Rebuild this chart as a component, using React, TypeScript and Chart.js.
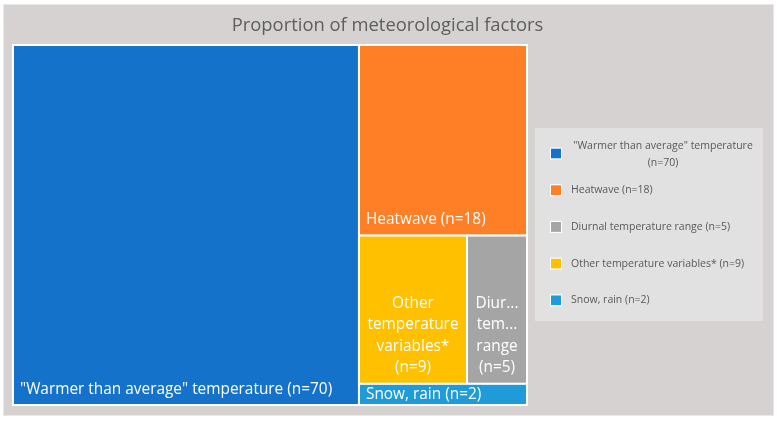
import React, { useEffect, useRef } from "react";
import { Chart, registerables } from "chart.js";

Chart.register(...registerables);

const chartTitle = "Proportion of meteorological factors";
const categories = [
  '"Warmer than average" temperature',
  "Heatwave",
  "Diurnal temperature range",
  "Other temperature variables*",
  "Snow, rain",
];
const counts = [70, 18, 5, 9, 2];
const colors = ["#1572CA", "#FF7F27", "#A5A5A5", "#FFC000", "#1E9BD8"];

const FONT = '"Open Sans", "Noto Sans", sans-serif';

type Item = { v: number; idx: number; a: number };
type Cell = { x: number; y: number; w: number; h: number; idx: number };

function worst(row: Item[], side: number) {
  const s = row.reduce((t, r) => t + r.a, 0);
  let m = 0;
  for (const r of row) {
    const q = Math.max((side * side * r.a) / (s * s), (s * s) / (side * side * r.a));
    if (q > m) m = q;
  }
  return m;
}

function squarify(values: number[], W: number, H: number): Cell[] {
  const total = values.reduce((a, b) => a + b, 0);
  const scale = (W * H) / total;
  const items: Item[] = values
    .map((v, idx) => ({ v, idx, a: v * scale }))
    .sort((p, q) => q.v - p.v);
  const out: Cell[] = [];
  let x = 0, y = 0, w = W, h = H;
  let i = 0;
  while (i < items.length) {
    const side = Math.min(w, h);
    let row = [items[i]];
    let best = worst(row, side);
    let j = i + 1;
    while (j < items.length) {
      const cand = [...row, items[j]];
      const r = worst(cand, side);
      if (r <= best * 1.5) {
        row = cand;
        best = r;
        j++;
      } else break;
    }
    const rowArea = row.reduce((t, r) => t + r.a, 0);
    if (w >= h) {
      const cw = rowArea / h;
      let cy = y;
      for (const it of row) {
        const ih = it.a / cw;
        out.push({ x, y: cy, w: cw, h: ih, idx: it.idx });
        cy += ih;
      }
      x += cw;
      w -= cw;
    } else {
      const rh = rowArea / w;
      let cx = x;
      for (const it of row) {
        const iw = it.a / rh;
        out.push({ x: cx, y, w: iw, h: rh, idx: it.idx });
        cx += iw;
      }
      y += rh;
      h -= rh;
    }
    i = j;
  }
  return out;
}

function fitWord(ctx: CanvasRenderingContext2D, word: string, maxW: number) {
  if (ctx.measureText(word).width <= maxW) return word;
  let s = word;
  while (s.length > 1 && ctx.measureText(s + "...").width > maxW) s = s.slice(0, -1);
  return s + "...";
}

function wrap(ctx: CanvasRenderingContext2D, text: string, maxW: number) {
  const words = text.split(" ");
  const lines: string[] = [];
  let cur = "";
  for (const wd of words) {
    const test = cur ? cur + " " + wd : wd;
    if (ctx.measureText(test).width <= maxW) cur = test;
    else {
      if (cur) lines.push(cur);
      cur = wd;
    }
  }
  if (cur) lines.push(cur);
  return lines.map((l) => fitWord(ctx, l, maxW));
}

const treemapPlugin = {
  id: "treemapDraw",
  beforeDraw(chart: any) {
    const ctx: CanvasRenderingContext2D = chart.ctx;
    ctx.save();
    ctx.fillStyle = "#ffffff";
    ctx.fillRect(0, 0, chart.width, chart.height);
    ctx.fillStyle = "#D6D2D2";
    ctx.fillRect(3, 4, 771, 412);
    ctx.strokeStyle = "#E9E8E8";
    ctx.lineWidth = 1;
    ctx.strokeRect(3.5, 4.5, 770, 411);
    // title
    ctx.fillStyle = "#5E5E5E";
    ctx.font = `18.4px ${FONT}`;
    ctx.textAlign = "center";
    ctx.textBaseline = "middle";
    ctx.fillText(chartTitle, 387.5, 26);
    ctx.restore();
  },
  afterDatasetsDraw(chart: any) {
    const ctx: CanvasRenderingContext2D = chart.ctx;
    const xs = chart.scales.x;
    const ys = chart.scales.y;
    const area = chart.chartArea;
    const W = area.right - area.left;
    const H = area.bottom - area.top;
    const cells = squarify(counts, W, H);
    ctx.save();
    for (const c of cells) {
      const x0 = xs.getPixelForValue((c.x / W) * 100);
      const x1 = xs.getPixelForValue(((c.x + c.w) / W) * 100);
      const y0 = ys.getPixelForValue((c.y / H) * 100);
      const y1 = ys.getPixelForValue(((c.y + c.h) / H) * 100);
      ctx.fillStyle = colors[c.idx];
      ctx.fillRect(x0, y0, x1 - x0, y1 - y0);
      ctx.strokeStyle = "#ffffff";
      ctx.lineWidth = 2;
      ctx.strokeRect(x0, y0, x1 - x0, y1 - y0);
    }
    // labels
    ctx.font = `15.4px ${FONT}`;
    ctx.fillStyle = "#ffffff";
    ctx.textBaseline = "middle";
    const pad = 7;
    const lh = 21.5;
    for (const c of cells) {
      const x0 = xs.getPixelForValue((c.x / W) * 100);
      const x1 = xs.getPixelForValue(((c.x + c.w) / W) * 100);
      const y0 = ys.getPixelForValue((c.y / H) * 100);
      const y1 = ys.getPixelForValue(((c.y + c.h) / H) * 100);
      const label = `${categories[c.idx]} (n=${counts[c.idx]})`;
      const maxW = x1 - x0 - 2 * pad;
      const single = ctx.measureText(label).width <= maxW;
      const lines = single ? [label] : wrap(ctx, label, maxW);
      const lastC = y1 - 5 - lh / 2;
      const firstC = lastC - (lines.length - 1) * lh;
      const shift = firstC < y0 + lh / 2 ? y0 + lh / 2 - firstC : 0;
      ctx.save();
      ctx.beginPath();
      ctx.rect(x0, y0, x1 - x0, y1 - y0 + 4);
      ctx.clip();
      lines.forEach((ln, k) => {
        const cy = firstC + shift + k * lh;
        if (single) {
          ctx.textAlign = "left";
          ctx.fillText(ln, x0 + pad, cy);
        } else {
          ctx.textAlign = "center";
          ctx.fillText(ln, (x0 + x1) / 2, cy);
        }
      });
      ctx.restore();
    }
    // legend
    const lx = 535, ly = 128, lw = 228, lhgt = 193;
    ctx.fillStyle = "#E2E1E1";
    ctx.fillRect(lx, ly, lw, lhgt);
    ctx.font = `10.5px ${FONT}`;
    ctx.textBaseline = "middle";
    const textX = 571;
    const textMax = lx + lw - textX - 8;
    categories.forEach((name, k) => {
      const cy = ly + 25.5 + k * 36.7;
      ctx.fillStyle = colors[k];
      ctx.fillRect(551, cy - 5, 10, 10);
      ctx.strokeStyle = "#ffffff";
      ctx.lineWidth = 1;
      ctx.strokeRect(550.5, cy - 5.5, 11, 11);
      ctx.fillStyle = "#595959";
      const countText = `(n=${counts[k]})`;
      const text = `${name} ${countText}`;
      if (ctx.measureText(text).width <= textMax) {
        ctx.textAlign = "left";
        ctx.fillText(text, textX, cy);
      } else {
        const ls = [...wrap(ctx, name, textMax), countText];
        const step = 16.5;
        const start = cy + 1 - ((ls.length - 1) * step) / 2;
        ctx.textAlign = "center";
        ls.forEach((l, m) => ctx.fillText(l, textX + textMax / 2, start + m * step));
      }
    });
    ctx.restore();
  },
};

export default function App() {
  const ref = useRef<HTMLCanvasElement | null>(null);
  useEffect(() => {
    document.body.style.margin = "0";
    if (!ref.current) return;
    const chart = new Chart(ref.current, {
      type: "scatter",
      data: {
        datasets: [
          {
            label: "cells",
            data: counts.map((v, i) => ({ x: i, y: v })),
            pointRadius: 0,
            pointHoverRadius: 0,
          },
        ],
      },
      options: {
        animation: false,
        responsive: false,
        events: [],
        layout: { padding: { left: 13, top: 45, right: 250, bottom: 16 } },
        scales: {
          x: { type: "linear", min: 0, max: 100, display: false },
          y: { type: "linear", min: 0, max: 100, display: false, reverse: true },
        },
        plugins: {
          legend: { display: false },
          title: { display: false },
          tooltip: { enabled: false },
        },
      },
      plugins: [treemapPlugin],
    });
    return () => chart.destroy();
  }, []);
  return (
    <div style={{ position: "absolute", left: 0, top: 0 }}>
      <canvas ref={ref} width={777} height={421} style={{ display: "block" }} />
    </div>
  );
}
